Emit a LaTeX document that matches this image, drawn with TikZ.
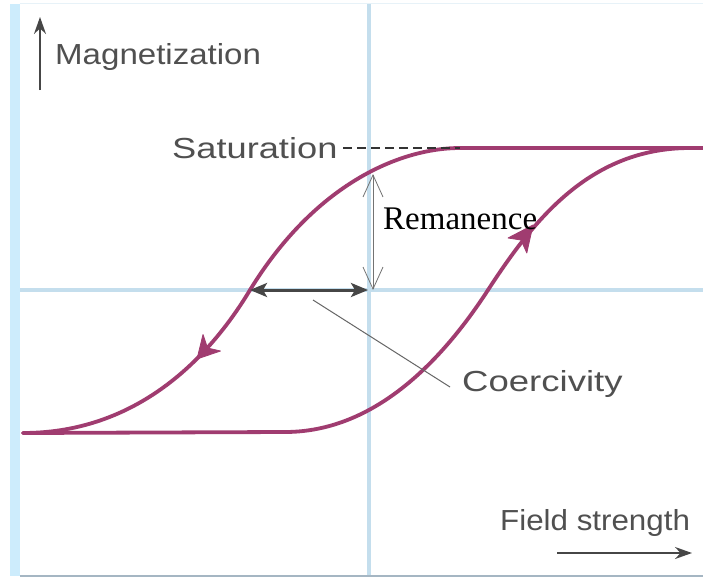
\documentclass[tikz,border=0pt]{standalone}
\usepackage{fontspec}
\setmainfont{Liberation Serif}
\newfontfamily\labfont{Liberation Sans}
\usetikzlibrary{arrows.meta}
\definecolor{curvecol}{RGB}{160,60,112}
\definecolor{axisblue}{RGB}{196,222,237}
\definecolor{barblue}{RGB}{205,236,252}
\definecolor{textgrey}{RGB}{80,80,80}
\definecolor{arrgrey}{RGB}{70,70,70}
\definecolor{bottomline}{RGB}{165,182,195}
\tikzset{
  lab/.style={font=\labfont\fontsize{29}{30}\selectfont, text=textgrey, inner sep=0pt},
  curve/.style={draw=curvecol, line width=3.8pt, line cap=round, line join=round},
  axisline/.style={draw=axisblue, line width=3.2pt},
  headshape/.style={fill=curvecol, draw=curvecol, line width=0.8pt, line join=round}
}
\begin{document}
\begin{tikzpicture}[x=1pt,y=-1pt]
\useasboundingbox (0,0) rectangle (703,578);
\fill[white] (0,0) rectangle (703,578);
% frame lines
\draw[draw=barblue, line width=10pt] (15,4) -- (15,576);
\draw[draw=bottomline, line width=1.8pt] (20,576) -- (703,576);
\draw[draw=axisblue!40, line width=1pt] (20,4) -- (703,4);
\draw[axisline] (369,4) -- (369,575);
\draw[axisline] (20,290) -- (703,290);
% coordinates
\coordinate (topR) at (703,148);
\coordinate (topL) at (460,148);
\coordinate (infD) at (250,290);
\coordinate (botL) at (23,433);
\coordinate (botR) at (285,432);
\coordinate (infA) at (488,290);
\coordinate (topA) at (690,148);
\coordinate (remTop) at (373,174);
\coordinate (remBot) at (373,290);
\coordinate (coL) at (250,290);
\coordinate (coR) at (368,290);
% hysteresis loop
\draw[curve] (topR) -- (topL) .. controls (400,148) and (315,184) .. (infD);
\draw[curve] (infD) .. controls (214,350) and (143,433) .. (botL);
\draw[curve] (botL) -- (botR) .. controls (375,432) and (442.5,360) .. (infA);
\draw[curve] (infA) .. controls (533.5,220) and (590,148) .. (topA) -- (topR);
% direction arrowheads on the loop
\filldraw[headshape] (197,359) -- (220.5,351) -- (207.5,348) -- (203,334.5) -- cycle;
\filldraw[headshape] (533,225) -- (508,238) -- (521,240) -- (526.8,253) -- cycle;
% labels
\node[lab, anchor=west] (mag) at (55,57) {\scalebox{1.14}[1]{Magnetization}};
\node[lab, anchor=west] (sat) at (172,148) {\scalebox{1.25}[1]{Saturation}};
\node[lab, anchor=west] (coe) at (462,384) {\scalebox{1.26}[1]{Coercivity}};
\node[lab, anchor=west] (fld) at (500,523) {\scalebox{1.08}[1]{Field strength}};
\node[font=\fontsize{33}{34}\selectfont, text=black, inner sep=0pt, anchor=base west] (rem) at (383,229) {Remanence};
% axis arrows
\coordinate (magB) at (40,90);
\coordinate (magT) at (40,17);
\draw[arrgrey, line width=1.6pt, -{Stealth[length=17pt,width=12pt]}] (magB) -- (magT);
\coordinate (fldL) at (557,553);
\coordinate (fldR) at (692,553);
\draw[arrgrey, line width=1.6pt, -{Stealth[length=17pt,width=12pt]}] (fldL) -- (fldR);
% saturation dashed
\coordinate (dashS) at (343,148);
\draw[black!80, line width=1.4pt, dash pattern=on 9pt off 5pt] (dashS) -- (topL);
% remanence double arrow
\draw[black!55, line width=0.8pt, {Straight Barb[length=22pt,width=20pt]}-{Straight Barb[length=22pt,width=20pt]}] (remTop) -- (remBot);
% coercivity double arrow
\draw[arrgrey, line width=3pt, {Stealth[length=17pt,width=14pt,inset=4pt]}-{Stealth[length=17pt,width=14pt,inset=4pt]}] (coL) -- (coR);
% coercivity leader
\coordinate (leadS) at (313,300);
\coordinate (leadE) at (450,387);
\draw[black!60, line width=1pt] (leadS) -- (leadE);
\end{tikzpicture}
\end{document}
